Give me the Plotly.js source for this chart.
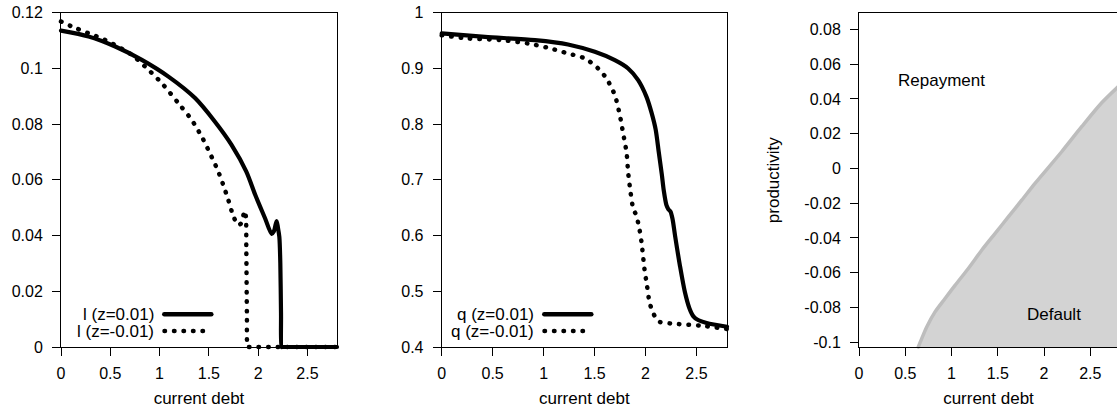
<!DOCTYPE html>
<html><head><meta charset="utf-8">
<script src="https://cdn.plot.ly/plotly-3.0.1.min.js"></script>
<style>
html,body{margin:0;padding:0;overflow:hidden;background:#fff;width:1117px;height:413px}
#chart{width:1125px;height:413px}
</style>
</head><body><div id="chart"></div>
<script>
// ---------- data ----------
// Panel 1: l (labour) against current debt
const lPosX = [0, 0.28, 0.55, 0.82, 1.09, 1.36, 1.56, 1.73, 1.88, 1.97, 2.07, 2.137, 2.16, 2.187, 2.2, 2.215, 2.225, 2.232, 2.238, 2.245, 2.27, 2.5, 2.8];
const lPosY = [0.1135, 0.1114, 0.1078, 0.103, 0.097, 0.0893, 0.0809, 0.0725, 0.0629, 0.0546, 0.0462, 0.0406, 0.0415, 0.0452, 0.043, 0.0395, 0.03, 0.012, 0, 0, 0, 0, 0];
const lNegX = [0, 0.108, 0.277, 0.446, 0.717, 0.852, 1.021, 1.19, 1.325, 1.427, 1.511, 1.596, 1.663, 1.697, 1.748, 1.798, 1.83, 1.862, 1.875, 1.88, 1.886, 1.893, 1.9, 1.93, 2.2, 2.8];
const lNegY = [0.1168, 0.115, 0.1126, 0.1102, 0.1048, 0.1006, 0.0947, 0.0875, 0.0815, 0.0755, 0.0695, 0.0629, 0.0564, 0.0528, 0.047, 0.0437, 0.0445, 0.0488, 0.047, 0.035, 0.012, 0, 0, 0, 0, 0];
// Panel 2: q (bond price) against current debt
const qPosX = [0, 0.425, 0.915, 1.24, 1.503, 1.699, 1.83, 1.928, 2.01, 2.06, 2.10, 2.13, 2.16, 2.18, 2.205, 2.225, 2.245, 2.265, 2.29, 2.337, 2.386, 2.43, 2.47, 2.516, 2.6, 2.8];
const qPosY = [0.9624, 0.9563, 0.9504, 0.9427, 0.9294, 0.9145, 0.8996, 0.8787, 0.8487, 0.82, 0.79, 0.75, 0.71, 0.68, 0.655, 0.647, 0.643, 0.63, 0.60, 0.547, 0.499, 0.47, 0.455, 0.4484, 0.443, 0.4364];
const qNegX = [0, 0.261, 0.588, 0.849, 1.045, 1.241, 1.405, 1.535, 1.617, 1.699, 1.748, 1.781, 1.814, 1.83, 1.853, 1.88, 1.905, 1.934, 1.961, 1.99, 2.015, 2.04, 2.075, 2.11, 2.14, 2.32, 2.549, 2.8];
const qNegY = [0.9593, 0.9534, 0.9504, 0.9444, 0.9366, 0.9265, 0.9176, 0.8996, 0.8817, 0.8518, 0.8159, 0.7831, 0.749, 0.713, 0.678, 0.648, 0.638, 0.618, 0.588, 0.54, 0.51, 0.48, 0.461, 0.45, 0.445, 0.4412, 0.4382, 0.4323];
// Panel 3: default boundary (debt, productivity)
const boundX = [0.641, 0.678, 0.732, 0.822, 0.93, 1.038, 1.182, 1.326, 1.47, 1.614, 1.759, 1.903, 2.191, 2.407, 2.624, 2.8];
const boundY = [-0.1028, -0.098, -0.0913, -0.0826, -0.0749, -0.0673, -0.0576, -0.0471, -0.0375, -0.0279, -0.0183, -0.0086, 0.0096, 0.024, 0.0378, 0.047];

// ticks
const xTickVals = [0, 0.5, 1, 1.5, 2, 2.5];
const xTickText = ['0', '0.5', '1', '1.5', '2', '2.5'];
const y1TickVals = [0, 0.02, 0.04, 0.06, 0.08, 0.1, 0.12];
const y1TickText = ['0', '0.02', '0.04', '0.06', '0.08', '0.1', '0.12'];
const y2TickVals = [0.4, 0.5, 0.6, 0.7, 0.8, 0.9, 1];
const y2TickText = ['0.4', '0.5', '0.6', '0.7', '0.8', '0.9', '1'];
const y3TickVals = [-0.1, -0.08, -0.06, -0.04, -0.02, 0, 0.02, 0.04, 0.06, 0.08];
const y3TickText = ['-0.1', '-0.08', '-0.06', '-0.04', '-0.02', '0', '0.02', '0.04', '0.06', '0.08'];

// labels
const legend1 = ['l (z=0.01)', 'l (z=-0.01)'];
const legend2 = ['q (z=0.01)', 'q (z=-0.01)'];
const xTitle = 'current debt';
const y3Title = 'productivity';
const regionLabels = ['Repayment', 'Default'];

// ---------- layout helpers ----------
const W = 1125, H = 413;
const px = v => v / W, py = v => (H - v) / H;
const FONT = '"Liberation Sans", Arial, Helvetica, sans-serif';
const TICKFONT = {family: FONT, size: 16, color: '#000'};
const TXTFONT = {family: FONT, size: 17, color: '#000'};
const DOT = '0.5px,9px';

function xAxis(d0, d1) {
  return {domain: [px(d0), px(d1)], range: [0, 2.8], tickmode: 'array', tickvals: xTickVals, ticktext: xTickText,
    showline: true, mirror: true, linecolor: '#000', linewidth: 1, ticks: 'outside', ticklen: 8, tickcolor: '#000',
    showgrid: false, zeroline: false, tickfont: TICKFONT, ticklabelstandoff: 4,
    title: {text: xTitle, font: TXTFONT, standoff: 10}, fixedrange: true};
}
function yAxis(top, range, vals, text, anchor) {
  return {domain: [py(347), py(top)], range: range, tickmode: 'array', tickvals: vals, ticktext: text, anchor: anchor,
    showline: true, mirror: true, linecolor: '#000', linewidth: 1, ticks: 'outside', ticklen: 8, tickcolor: '#000',
    showgrid: false, zeroline: false, tickfont: TICKFONT, ticklabelstandoff: 6, fixedrange: true};
}
const SOLID = {color: '#000', width: 4.2, shape: 'spline', smoothing: 0.8};
const DOTTED = {color: '#000', width: 4.5, dash: DOT, shape: 'spline', smoothing: 0.8};

const traces = [
  // default region: filled between the lower edge of the grid and the boundary
  {x: boundX, y: boundX.map(() => boundY[0]), xaxis: 'x3', yaxis: 'y3', mode: 'lines', line: {width: 0}},
  {x: boundX, y: boundY, xaxis: 'x3', yaxis: 'y3', mode: 'lines', fill: 'tonexty', fillcolor: '#d3d3d3',
   line: {color: '#bdbdbd', width: 3.5, shape: 'spline', smoothing: 0.8}},
  {x: lPosX, y: lPosY, xaxis: 'x', yaxis: 'y', mode: 'lines', line: SOLID, cliponaxis: false},
  {x: lNegX, y: lNegY, xaxis: 'x', yaxis: 'y', mode: 'lines', line: DOTTED, cliponaxis: false},
  {x: qPosX, y: qPosY, xaxis: 'x2', yaxis: 'y2', mode: 'lines', line: SOLID, cliponaxis: false},
  {x: qNegX, y: qNegY, xaxis: 'x2', yaxis: 'y2', mode: 'lines', line: DOTTED, cliponaxis: false}
];

const annotations = [];
const shapes = [];
function addLegend(labels, textRight, lineX0) {
  const rows = [314.3, 331];
  labels.forEach((t, i) => {
    annotations.push({xref: 'paper', yref: 'paper', x: px(textRight), y: py(rows[i]), xanchor: 'right', yanchor: 'middle',
      text: t, showarrow: false, font: TXTFONT, borderpad: 0});
  });
  shapes.push({type: 'line', xref: 'paper', yref: 'paper', x0: px(lineX0 + 2), x1: px(lineX0 + 49), y0: py(rows[0]), y1: py(rows[0]),
    line: {color: '#000', width: 4.5}});
  shapes.push({type: 'line', xref: 'paper', yref: 'paper', x0: px(lineX0 + 2.2), x1: px(lineX0 + 41.5), y0: py(rows[1]), y1: py(rows[1]),
    line: {color: '#000', width: 4.5, dash: DOT}});
}
addLegend(legend1, 154.5, 162.3);
addLegend(legend2, 534.5, 542.3);

annotations.push({xref: 'x3', yref: 'y3', x: 0.894, y: 0.0509, text: regionLabels[0], showarrow: false, font: TXTFONT, xanchor: 'center', yanchor: 'middle'});
annotations.push({xref: 'x3', yref: 'y3', x: 2.108, y: -0.0841, text: regionLabels[1], showarrow: false, font: TXTFONT, xanchor: 'center', yanchor: 'middle'});

const y3 = yAxis(13.3, [-0.1028, 0.0893], y3TickVals, y3TickText, 'x3');
y3.title = {text: y3Title, font: TXTFONT, standoff: 20};

const layout = {
  width: W, height: H, margin: {l: 0, r: 0, t: 0, b: 0}, showlegend: false,
  paper_bgcolor: '#fff', plot_bgcolor: 'rgba(0,0,0,0)',
  font: {family: FONT, color: '#000'},
  xaxis: Object.assign(xAxis(61, 337), {anchor: 'y'}),
  yaxis: yAxis(12.5, [0, 0.12], y1TickVals, y1TickText, 'x'),
  xaxis2: Object.assign(xAxis(441.7, 727), {anchor: 'y2'}),
  yaxis2: yAxis(12.5, [0.4, 1], y2TickVals, y2TickText, 'x2'),
  xaxis3: Object.assign(xAxis(859, 1118), {anchor: 'y3'}),
  yaxis3: y3,
  annotations: annotations, shapes: shapes
};

Plotly.newPlot('chart', traces, layout, {staticPlot: true, displayModeBar: false}).then(gd => {
  // let the thick curves overlap the frame as in the original, and give dotted lines round dots
  gd.querySelectorAll('.cartesianlayer [clip-path]').forEach(el => el.removeAttribute('clip-path'));
  gd.querySelectorAll('path').forEach(p => {
    const da = p.style.strokeDasharray;
    if (da && da !== 'none') p.style.strokeLinecap = 'round';
  });
  gd.querySelectorAll('.shapelayer path').forEach(p => { p.style.strokeLinecap = 'round'; });
  gd.querySelectorAll('.scatterlayer .js-line').forEach(p => { p.style.strokeLinejoin = 'round'; p.style.strokeLinecap = 'round'; });
});
</script>
</body></html>
